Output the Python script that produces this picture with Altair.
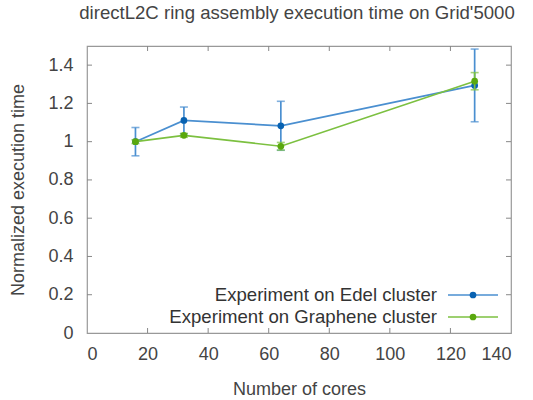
import altair as alt
import pandas as pd

cores = [16, 32, 64, 128]
edel_time = [1.0, 1.111, 1.083, 1.294]
edel_err = [0.074, 0.07, 0.128, 0.19]
graphene_time = [1.0, 1.033, 0.976, 1.316]
graphene_err = [0.01, 0.01, 0.02, 0.045]
series_names = ["Experiment on Edel cluster", "Experiment on Graphene cluster"]
x_ticks = [0, 20, 40, 60, 80, 100, 120, 140]
y_ticks = [0, 0.2, 0.4, 0.6, 0.8, 1.0, 1.2, 1.4]

title_text = "directL2C ring assembly execution time on Grid'5000"
x_title = "Number of cores"
y_title = "Normalized execution time"

line_colors = ["#4a8fd0", "#7cc040"]
point_colors = ["#0862b2", "#5aa80e"]

W, H = 424, 287
FONT = "Liberation Sans"
FS = 18
FS_T = 18.6

rows = []
for name, t, e in [(series_names[0], edel_time, edel_err), (series_names[1], graphene_time, graphene_err)]:
    for c, v, err in zip(cores, t, e):
        rows.append({"series": name, "cores": c, "time": v, "lo": v - err, "hi": v + err})
df = pd.DataFrame(rows)

xs = alt.Scale(domain=[0, 140], nice=False)
ys = alt.Scale(domain=[0, 1.5], nice=False)

x_enc = alt.X("cores:Q", scale=xs, axis=alt.Axis(values=x_ticks, title=x_title, ticks=False, domain=False,
                                               grid=False, labelPadding=12, titlePadding=17, format="d"))
y_enc = alt.Y("time:Q", scale=ys, axis=alt.Axis(values=y_ticks, title=y_title, ticks=False, domain=False,
                                              grid=False, labelPadding=14, titlePadding=20, format=".1~f"))

layers = []
for i, name in enumerate(series_names):
    d = df[df.series == name]
    base = alt.Chart(d)
    line = base.mark_line(color=line_colors[i], strokeWidth=1.7).encode(x=x_enc, y=y_enc)
    bars = base.mark_rule(color=line_colors[i], strokeWidth=1.7).encode(x="cores:Q", y="lo:Q", y2="hi:Q")
    cap_lo = base.mark_tick(color=line_colors[i], thickness=1.6, size=8, orient="horizontal").encode(x="cores:Q", y="lo:Q")
    cap_hi = base.mark_tick(color=line_colors[i], thickness=1.6, size=8, orient="horizontal").encode(x="cores:Q", y="hi:Q")
    pts = base.mark_circle(color=point_colors[i], size=45, opacity=1).encode(x="cores:Q", y="time:Q")
    layers += [line, bars, cap_lo, cap_hi, pts]

# inward ticks
xt = pd.DataFrame({"v": x_ticks[1:-1]})
yt = pd.DataFrame({"v": y_ticks[1:]})
tick_col = "#888888"
xtb = alt.Chart(xt).mark_rule(color=tick_col, strokeWidth=1).encode(x=alt.X("v:Q", scale=xs), y=alt.value(H), y2=alt.value(H - 5))
xtt = alt.Chart(xt).mark_rule(color=tick_col, strokeWidth=1).encode(x=alt.X("v:Q", scale=xs), y=alt.value(0), y2=alt.value(5))
ytl = alt.Chart(yt).mark_rule(color=tick_col, strokeWidth=1).encode(y=alt.Y("v:Q", scale=ys), x=alt.value(0), x2=alt.value(5))
ytr = alt.Chart(yt).mark_rule(color=tick_col, strokeWidth=1).encode(y=alt.Y("v:Q", scale=ys), x=alt.value(W), x2=alt.value(W - 5))

# legend
leg = pd.DataFrame({"series": series_names, "row": [0, 1]})
leg_y = [249, 271]
leg_layers = []
for i, name in enumerate(series_names):
    ld = leg[leg.series == name]
    lb = alt.Chart(ld)
    leg_layers.append(lb.mark_text(align="right", baseline="middle", font=FONT, fontSize=FS_T, color="#333333")
                      .encode(text="series:N", x=alt.value(350), y=alt.value(leg_y[i])))
    leg_layers.append(lb.mark_rule(color=line_colors[i], strokeWidth=1.7)
                      .encode(x=alt.value(361), x2=alt.value(411), y=alt.value(leg_y[i])))
    leg_layers.append(lb.mark_circle(color=point_colors[i], size=45, opacity=1)
                      .encode(x=alt.value(386), y=alt.value(leg_y[i])))

title_df = pd.DataFrame({"t": [title_text]})
title = alt.Chart(title_df).mark_text(align="center", baseline="middle", font=FONT, fontSize=FS_T, color="#444444").encode(
    text="t:N", x=alt.value(W / 2 - 2), y=alt.value(-33))

chart = alt.layer(*layers, xtb, xtt, ytl, ytr, *leg_layers, title).properties(
    width=W, height=H,
    background="white",
    autosize=alt.AutoSizeParams(type="none"),
    padding={"left": 87, "top": 46, "right": 22, "bottom": 67},
).configure_view(stroke="#999999", strokeWidth=1.2).configure_axis(
    labelFont=FONT, labelFontSize=FS, labelColor="#444444",
    titleFont=FONT, titleFontSize=FS, titleColor="#444444", titleFontWeight="normal",
)

chart.save("out.html", embed_options={"renderer": "svg", "actions": False})
